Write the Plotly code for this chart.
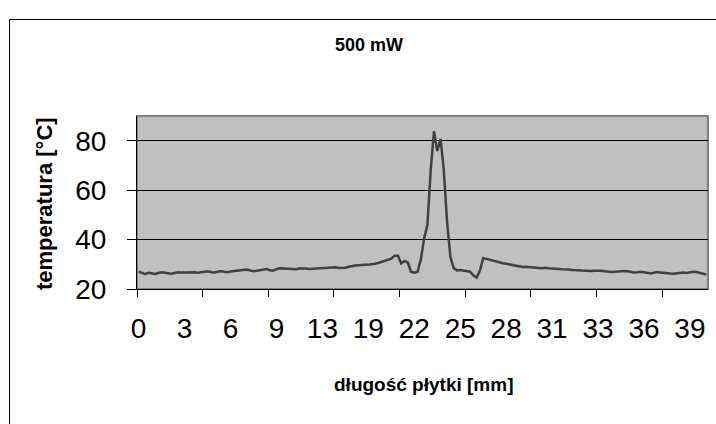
import plotly.graph_objects as go

# Temperature profile along the plate (one value per measurement point)
temperature = [
    27.0, 26.5, 26.0, 26.6, 26.3, 26.1, 26.5, 26.8, 26.6, 26.3,
    26.2, 26.5, 26.8, 26.7, 26.8, 26.9, 27.0, 26.8, 26.6, 26.7,
    27.0, 27.2, 26.9, 26.6, 27.0, 27.2, 27.0, 26.8, 27.1, 27.3,
    27.4, 27.7, 28.0, 27.9, 27.5, 27.2, 27.4, 27.6, 27.9, 28.1,
    27.6, 27.4, 28.0, 28.4, 28.3, 28.2, 28.0, 28.1, 28.0, 28.3,
    28.4, 28.3, 28.1, 28.2, 28.4, 28.5, 28.6, 28.7, 28.8, 28.9,
    28.8, 28.5, 28.4, 28.6, 29.0, 29.4, 29.5, 29.6, 29.8, 29.8,
    29.8, 29.9, 30.2, 30.5, 30.9, 31.2, 31.7, 32.3, 33.5, 33.5,
    30.4, 31.3, 30.8, 27.0, 26.6, 27.0, 32.0, 40.5, 46.0, 68.0,
    83.9, 75.8, 80.7, 68.0, 47.0, 33.0, 28.5, 27.5, 27.7, 27.5,
    27.2, 27.0, 25.5, 24.6, 27.5, 32.5, 32.2, 31.8, 31.4, 31.0,
    30.6, 30.4, 30.2, 29.9, 29.7, 29.5, 29.1, 28.9, 29.0, 28.8,
    28.6, 28.7, 28.5, 28.4, 28.6, 28.4, 28.2, 28.3, 28.1, 28.0,
    28.1, 27.9, 27.7, 27.8, 27.6, 27.5, 27.4, 27.2, 27.3, 27.4,
    27.5, 27.4, 27.2, 27.0, 26.9, 27.0, 27.2, 27.1, 27.3, 27.2,
    26.9, 26.7, 26.8, 27.0, 26.8, 26.4, 26.3, 26.6, 26.9, 26.7,
    26.5, 26.6, 26.3, 26.2, 26.4, 26.6, 26.7, 26.5, 26.8, 27.0,
    26.9, 26.5, 26.2, 25.9,
]
point_index = list(range(len(temperature)))

# category labels shown every 14th point, tick marks every 20th point
label_index = [0, 14, 28, 42, 56, 70, 84, 98, 112, 126, 140, 154, 168]
label_text = ["0", "3", "6", "9", "13", "19", "22", "25", "28", "31", "33", "36", "39"]
tickmark_pos = [-0.5, 19.5, 39.5, 59.5, 79.5, 99.5, 119.5, 139.5, 159.5]

y_ticks = [20, 40, 60, 80]

FONT = "Liberation Sans, Arial, sans-serif"

fig = go.Figure()
fig.add_trace(go.Scatter(
    x=point_index, y=temperature, mode="lines",
    line=dict(color="#404040", width=2.5),
    showlegend=False, hoverinfo="skip",
))

W, H = 716, 424
L, R, T, B = 137, 8, 116, 135
pw, ph = W - L - R, H - T - B

def px2paper_x(px):
    return (px - L) / pw

def px2paper_y(py):
    return (H - B - py) / ph

fig.update_layout(
    width=W, height=H,
    margin=dict(l=L, r=R, t=T, b=B, pad=0),
    paper_bgcolor="white",
    plot_bgcolor="#C0C0C0",
    font=dict(family=FONT, color="black"),
    xaxis=dict(
        range=[-0.5, len(temperature) - 0.5],
        tickmode="array", tickvals=label_index, ticktext=label_text,
        ticks="", showgrid=False, zeroline=False,
        showline=True, linecolor="black", linewidth=1,
        tickfont=dict(size=28, family=FONT),
        ticklabelstandoff=14,
        minor=dict(tickmode="array", tickvals=tickmark_pos, ticks="outside",
                   ticklen=7, tickcolor="black", tickwidth=1, showgrid=False),
    ),
    yaxis=dict(
        range=[20, 90],
        tickmode="array", tickvals=y_ticks,
        ticks="outside", ticklen=9, tickcolor="black", tickwidth=1,
        showgrid=True, gridcolor="black", gridwidth=1,
        zeroline=False,
        showline=True, linecolor="black", linewidth=1,
        tickfont=dict(size=28, family=FONT),
        ticklabelstandoff=15,
    ),
    shapes=[
        # plot area border (gray)
        dict(type="rect", xref="paper", yref="paper", x0=0, x1=1, y0=0, y1=1,
             line=dict(color="#808080", width=2), layer="below"),
        # chart area border (left edge + top edge)
        dict(type="path", xref="paper", yref="paper",
             path="M {x0},{y0} L {x0},{y1} L {x2},{y1}".format(
                 x0=px2paper_x(9.5), y0=px2paper_y(H + 5),
                 y1=px2paper_y(19.5), x2=px2paper_x(W + 5)),
             line=dict(color="black", width=1)),
    ],
    annotations=[
        dict(text="<b>500 mW</b>", xref="paper", yref="paper",
             x=px2paper_x(369), y=px2paper_y(45), showarrow=False,
             xanchor="center", yanchor="middle", font=dict(size=18, family=FONT)),
        dict(text="<b>długość płytki [mm]</b>", xref="paper", yref="paper",
             x=px2paper_x(423), y=px2paper_y(384), showarrow=False,
             xanchor="center", yanchor="middle", font=dict(size=19, family=FONT)),
        dict(text="<b>temperatura [°C]</b>", xref="paper", yref="paper",
             x=px2paper_x(44), y=px2paper_y(204), showarrow=False, textangle=-90,
             xanchor="center", yanchor="middle", font=dict(size=22, family=FONT)),
    ],
)

fig.write_html("out.html")
